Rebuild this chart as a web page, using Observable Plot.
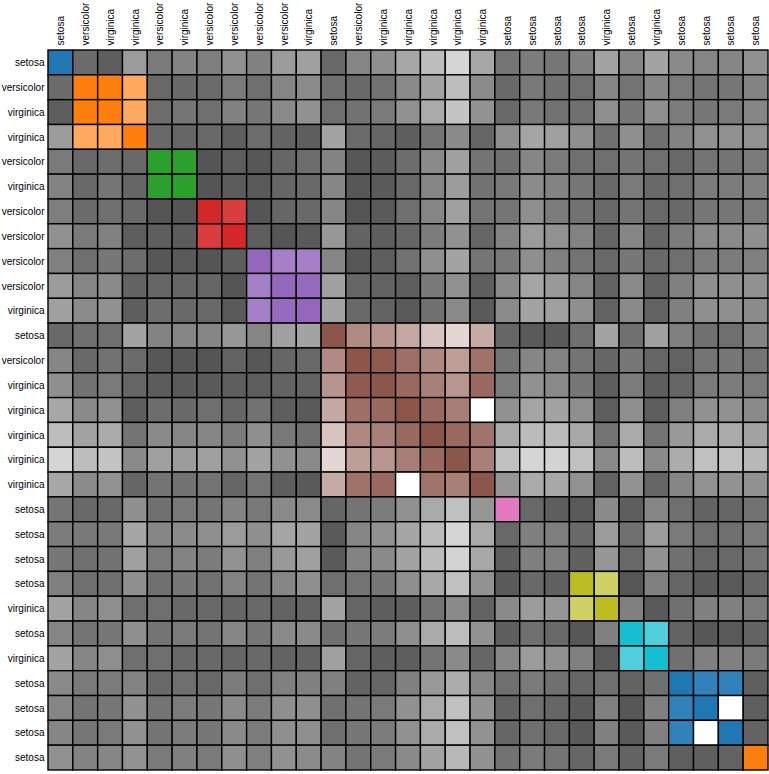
<!DOCTYPE html>
<html>
<head>
<meta charset="utf-8">
<script src="https://cdn.jsdelivr.net/npm/d3@7"></script>
<script src="https://cdn.jsdelivr.net/npm/@observablehq/plot@0.6"></script>
<style>
  html, body { margin: 0; padding: 0; background: #fff; }
  #chart { width: 769px; height: 774px; }
</style>
</head>
<body>
<div id="chart"></div>
<script>
// Row / column labels (same order on both axes)
const labels = ["setosa","versicolor","virginica","virginica","versicolor","virginica","versicolor","versicolor","versicolor","versicolor","virginica","setosa","versicolor","virginica","virginica","virginica","virginica","virginica","setosa","setosa","setosa","setosa","virginica","setosa","virginica","setosa","setosa","setosa","setosa"];
// Cluster of each row / column
const groups = [0,1,1,1,2,2,3,3,4,4,4,5,5,5,5,5,5,5,6,7,7,8,8,9,9,10,10,10,11];
// Similarity values, upper triangle: row i holds columns i+1 .. 28
const upperRows = [
  [0.87,0.95,0.59,0.78,0.73,0.76,0.65,0.74,0.59,0.56,0.88,0.71,0.66,0.52,0.39,0.25,0.52,0.81,0.77,0.80,0.75,0.54,0.72,0.54,0.69,0.72,0.71,0.65],
  [1.00,0.67,0.89,0.88,0.87,0.78,0.85,0.72,0.68,0.84,0.88,0.83,0.69,0.54,0.39,0.68,0.88,0.79,0.84,0.85,0.71,0.82,0.71,0.78,0.82,0.80,0.73],
  [0.67,0.86,0.81,0.85,0.74,0.80,0.69,0.65,0.85,0.83,0.78,0.65,0.50,0.35,0.64,0.88,0.79,0.83,0.84,0.66,0.80,0.66,0.77,0.80,0.78,0.71],
  [0.88,0.90,0.88,0.95,0.86,0.92,0.95,0.54,0.87,0.90,0.95,0.82,0.69,0.90,0.66,0.53,0.56,0.66,0.84,0.66,0.84,0.73,0.65,0.65,0.64],
  [1.00,1.00,0.95,0.99,0.90,0.86,0.73,0.99,0.96,0.86,0.69,0.56,0.82,0.84,0.71,0.78,0.84,0.85,0.82,0.85,0.88,0.82,0.82,0.78],
  [1.00,0.96,0.97,0.90,0.88,0.71,0.99,0.97,0.88,0.72,0.58,0.83,0.79,0.68,0.73,0.80,0.88,0.78,0.88,0.85,0.77,0.77,0.75],
  [0.90,1.00,0.90,0.88,0.71,1.00,0.97,0.85,0.71,0.56,0.82,0.81,0.66,0.77,0.83,0.88,0.82,0.88,0.88,0.80,0.80,0.78],
  [0.95,1.00,0.97,0.61,0.92,0.95,0.90,0.77,0.65,0.90,0.73,0.59,0.64,0.73,0.90,0.71,0.90,0.77,0.69,0.69,0.66],
  [0.84,0.84,0.72,0.99,0.95,0.83,0.66,0.54,0.81,0.79,0.66,0.75,0.82,0.88,0.80,0.88,0.85,0.77,0.77,0.75],
  [0.98,0.56,0.90,0.92,0.95,0.79,0.65,0.95,0.69,0.53,0.60,0.71,0.92,0.69,0.92,0.75,0.66,0.66,0.65],
  [0.54,0.88,0.92,0.97,0.84,0.69,0.97,0.68,0.54,0.56,0.66,0.92,0.69,0.92,0.75,0.66,0.66,0.68],
  [0.69,0.63,0.51,0.35,0.24,0.50,0.90,0.97,0.97,0.85,0.54,0.84,0.56,0.75,0.84,0.85,0.73],
  [0.97,0.85,0.70,0.57,0.83,0.82,0.71,0.73,0.82,0.90,0.80,0.90,0.92,0.82,0.80,0.82],
  [0.88,0.75,0.62,0.88,0.77,0.65,0.69,0.80,0.95,0.77,0.95,0.90,0.78,0.77,0.78],
  [0.88,0.76,0.00,0.65,0.53,0.54,0.66,0.95,0.66,0.95,0.75,0.65,0.65,0.69],
  [0.88,0.82,0.50,0.40,0.40,0.51,0.82,0.50,0.82,0.60,0.50,0.50,0.54],
  [0.75,0.37,0.25,0.26,0.37,0.69,0.39,0.69,0.49,0.37,0.37,0.42],
  [0.62,0.50,0.51,0.64,0.92,0.64,0.90,0.71,0.64,0.64,0.65],
  [0.89,0.95,0.97,0.69,0.95,0.71,0.85,0.92,0.90,0.83],
  [1.00,0.88,0.59,0.85,0.59,0.78,0.85,0.85,0.78],
  [0.93,0.62,0.89,0.65,0.84,0.90,0.89,0.82],
  [0.70,0.99,0.75,0.90,0.97,0.97,0.90],
  [0.75,0.97,0.84,0.75,0.75,0.78],
  [0.76,0.92,0.99,0.97,0.92],
  [0.84,0.75,0.75,0.78],
  [0.92,0.92,0.94],
  [0.00,0.94],
  [0.92]
];

const n = labels.length;
const sim = (i, j) => i === j ? 1 : (i < j ? upperRows[i][j - i - 1] : upperRows[j][i - j - 1]);
const cells = [];
for (let i = 0; i < n; ++i) for (let j = 0; j < n; ++j) {
  cells.push({row: i, col: j, value: sim(i, j), same: groups[i] === groups[j], group: groups[i]});
}
const fillOf = d => d.same
  ? d3.interpolateRgb("#ffffff", d3.schemeCategory10[d.group % 10])(d.value)
  : d3.interpolateRgb("#ffffff", "#555555")(d.value);

const idx = d3.range(n);
const chart = Plot.plot({
  width: 769,
  height: 774,
  marginLeft: 48,
  marginTop: 50,
  marginRight: 1,
  marginBottom: 4,
  style: {fontFamily: "'Liberation Sans', Arial, sans-serif", fontSize: "10px", background: "#fff", color: "#000"},
  x: {domain: idx, padding: 0, round: false, axis: null},
  y: {domain: idx, padding: 0, round: false, axis: null},
  color: {type: "identity"},
  marks: [
    Plot.cell(cells, {x: "col", y: "row", fill: fillOf, stroke: "#000", strokeWidth: 1.4}),
    Plot.axisX({anchor: "top", tickRotate: -90, tickSize: 0, tickPadding: 5, tickFormat: i => labels[i], label: null}),
    Plot.axisY({anchor: "left", tickSize: 0, tickPadding: 4, tickFormat: i => labels[i], label: null})
  ]
});
document.getElementById("chart").appendChild(chart);
</script>
</body>
</html>
